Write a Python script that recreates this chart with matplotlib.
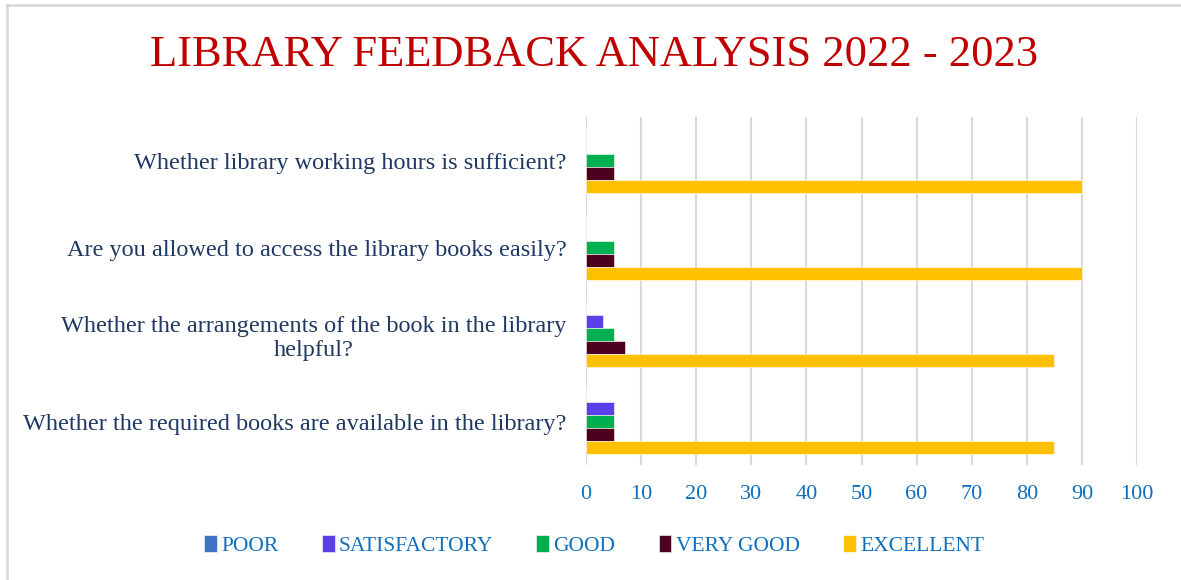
import numpy as np
import matplotlib.pyplot as plt
from matplotlib.lines import Line2D

# Data (bottom to top on the chart)
questions = [
    "Whether the required books are available in the library?",
    "Whether the arrangements of the book in the library\nhelpful?",
    "Are you allowed to access the library books easily?",
    "Whether library working hours is sufficient?",
]
series = ["POOR", "SATISFACTORY", "GOOD", "VERY GOOD", "EXCELLENT"]
poor = [0, 0, 0, 0]
satisfactory = [5, 3, 0, 0]
good = [5, 5, 5, 5]
very_good = [5, 7, 5, 5]
excellent = [85, 85, 90, 90]
values = [poor, satisfactory, good, very_good, excellent]
colors = ["#4472C4", "#5B40EA", "#00B050", "#4E0020", "#FFC000"]

plt.rcParams['font.family'] = ['Liberation Serif', 'DejaVu Serif']

fig = plt.figure(figsize=(11.81, 5.8), dpi=100)
ax = fig.add_axes([586 / 1181, 0.198, (1137 - 586) / 1181, 0.6])

y = np.arange(len(questions))
h = 0.15
for j, (name, vals, c) in enumerate(zip(series, values, colors)):
    ax.barh(y + (2 - j) * h, vals, height=h, color=c, label=name,
            edgecolor="white", linewidth=0.4, zorder=3)

ax.set_xlim(0, 100)
ax.set_ylim(-0.5, 3.5)
ax.set_xticks(range(0, 101, 10))
ax.set_yticks(y)
ax.set_yticklabels(questions, color="#1F3864", fontsize=17.5, ma="center")
ax.tick_params(axis="x", colors="#0E6FBE", labelsize=16, length=0, pad=14)
ax.tick_params(axis="y", length=0, pad=14)
ax.grid(axis="x", color="#D9D9D9", linewidth=1.5, zorder=0)
for s in ax.spines.values():
    s.set_visible(False)

fig.suptitle("LIBRARY FEEDBACK ANALYSIS 2022 - 2023", color="#C00000",
             fontsize=32, x=0.503, y=0.94)

leg = fig.legend(loc="center", bbox_to_anchor=(0.503, 0.06), ncol=5,
                 frameon=False, fontsize=15.5, handlelength=0.6, handleheight=0.9,
                 handletextpad=0.2, columnspacing=2.0)
for t in leg.get_texts():
    t.set_color("#0E6FBE")

# chart border (top and left edges visible)
fig.add_artist(Line2D([7 / 1181, 1], [1 - 5 / 580, 1 - 5 / 580],
                      transform=fig.transFigure, color="#D9D9D9", lw=2))
fig.add_artist(Line2D([7 / 1181, 7 / 1181], [0, 1 - 5 / 580],
                      transform=fig.transFigure, color="#D9D9D9", lw=2))

fig.savefig("out.png", dpi=100)
